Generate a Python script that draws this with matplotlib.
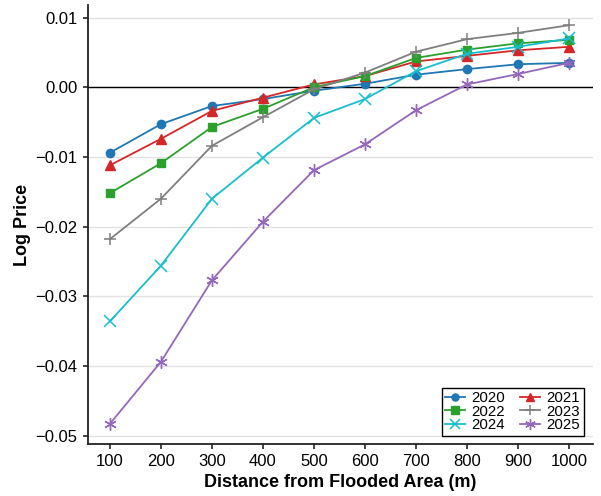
#!/usr/bin/env python3

import numpy as np
from matplotlib import pyplot as plt

plt.rcParams["font.family"] = ["Liberation Sans", "DejaVu Sans"]

distances = [100, 200, 300, 400, 500, 600, 700, 800, 900, 1000]
years = ["2020", "2021", "2022", "2023", "2024", "2025"]

price_2020 = [-0.0094, -0.0053, -0.0027, -0.0017, -0.0005, 0.0005, 0.0018, 0.0026, 0.0033, 0.0035]
price_2021 = [-0.0112, -0.0074, -0.0034, -0.0015, 0.0004, 0.0016, 0.0037, 0.0045, 0.0053, 0.0058]
price_2022 = [-0.0152, -0.0109, -0.0057, -0.0031, 0.0000, 0.0016, 0.0042, 0.0054, 0.0063, 0.0068]
price_2023 = [-0.0218, -0.0160, -0.0084, -0.0043, -0.0003, 0.0021, 0.0051, 0.0069, 0.0078, 0.0089]
price_2024 = [-0.0336, -0.0256, -0.0160, -0.0101, -0.0044, -0.0017, 0.0023, 0.0048, 0.0058, 0.0070]
price_2025 = [-0.0483, -0.0394, -0.0277, -0.0193, -0.0119, -0.0082, -0.0033, 0.0004, 0.0019, 0.0035]

series = [price_2020, price_2021, price_2022, price_2023, price_2024, price_2025]
colors = ["#1f77b4", "#d62728", "#2ca02c", "#7f7f7f", "#17becf", "#9467bd"]
markers = ["o", "^", "s", "+", "x", "*"]

fig = plt.figure(figsize=(6.01, 4.96), dpi=100)
ax = fig.add_axes([0.1464, 0.1048, 0.8403, 0.8851])

for spine in ["top", "right"]:
    ax.spines[spine].set_visible(False)
for spine in ["left", "bottom"]:
    ax.spines[spine].set_linewidth(1.3)
    ax.spines[spine].set_color("#222222")

ax.set_axisbelow(True)
ax.yaxis.grid(True, color="#e2e2e2", linewidth=1.0)
ax.axhline(0, color="black", linewidth=1.0, zorder=1.5)

handles = []
for year, vals, c, m in zip(years, series, colors, markers):
    ms = 6
    mew = 1.0
    if m == "^":
        ms = 7
    if m == "*":
        m = (6, 2, 0)
        ms = 9
        mew = 1.0
    if m in ("+", "x"):
        ms = 8
        mew = 1.1
    h, = ax.plot(distances, vals, color=c, marker=m, markersize=ms,
                 markeredgewidth=mew, linewidth=1.3, label=year, zorder=3)
    handles.append(h)

ax.set_xlim(57, 1047)
ax.set_ylim(-0.0512, 0.0118)
ax.set_xticks(distances)
ax.set_yticks([0.01, 0.0, -0.01, -0.02, -0.03, -0.04, -0.05])
ax.set_yticklabels(["0.01", "0.00", "\u22120.01", "\u22120.02", "\u22120.03", "\u22120.04", "\u22120.05"])
ax.tick_params(axis="both", labelsize=12, direction="out", length=3.5, width=1.2,
               colors="#222222", labelcolor="black", pad=4)

ax.set_xlabel("Distance from Flooded Area (m)", fontsize=13, fontweight="bold", labelpad=3)
ax.set_ylabel("Log Price", fontsize=13, fontweight="bold", labelpad=3)

order = [0, 2, 4, 1, 3, 5]
leg = ax.legend([handles[i] for i in order], [years[i] for i in order],
                ncol=2, loc="lower right", fontsize=10.8, frameon=True, fancybox=False,
                edgecolor="black", framealpha=1, handlelength=1.3, handletextpad=0.45,
                columnspacing=1.0, labelspacing=-0.05, borderpad=0.25, borderaxespad=0,
                markerscale=0.85, bbox_to_anchor=(0.982, 0.019))
leg.get_frame().set_linewidth(1.0)

fig.savefig("out.png", dpi=100)
